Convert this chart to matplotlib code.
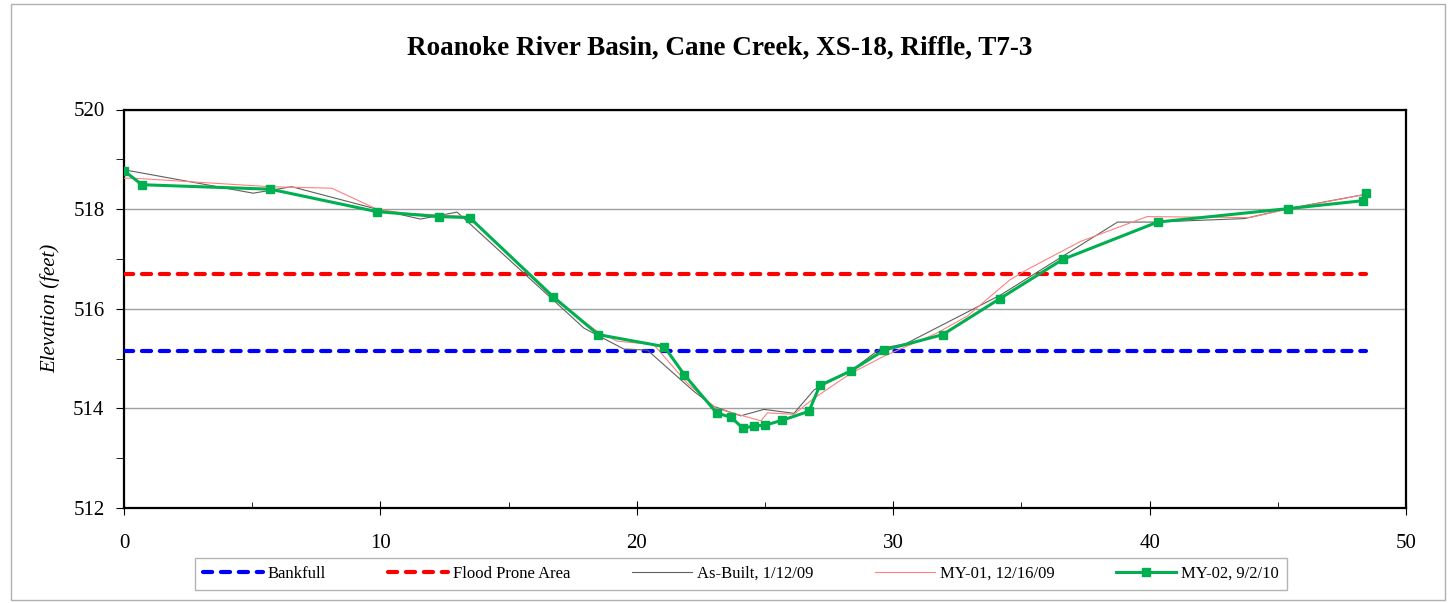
"""
Cross-section XS-18 (Cane Creek riffle): as-built vs monitoring surveys.
Saves out.png.
"""

import matplotlib

matplotlib.use("Agg")
import matplotlib.pyplot as plt
from matplotlib.patches import Rectangle
from matplotlib.ticker import MultipleLocator

plt.rcParams["font.family"] = ["Liberation Serif", "DejaVu Serif"]

# --- Data ------------------------------------------------------------------
bankfull_x = [0.0, 48.45]
bankfull_y = [515.15, 515.15]

flood_x = [0.0, 48.45]
flood_y = [516.70, 516.70]

asbuilt_x = [0.0, 5.04, 6.54, 9.86, 11.56, 12.99, 14.67, 17.94, 19.50, 20.41,
             22.23, 23.00, 24.05, 24.96, 26.13, 26.91, 28.34, 29.50, 30.50,
             34.20, 38.75, 40.18, 43.70, 45.40, 48.45]
asbuilt_y = [518.79, 518.32, 518.45, 518.00, 517.80, 517.94, 517.15, 515.61,
             515.19, 515.17, 514.34, 514.04, 513.85, 513.98, 513.90, 514.37,
             514.75, 515.20, 515.30, 516.28, 517.74, 517.74, 517.81, 518.01,
             518.30]

my01_x = [0.0, 0.40, 5.70, 8.10, 9.86, 10.90, 13.48, 16.74, 18.45, 19.23,
          20.66, 21.98, 23.10, 24.84, 25.10, 26.13, 26.90, 28.34, 29.65,
          31.70, 32.88, 34.55, 35.20, 37.30, 39.90, 43.90, 45.40, 48.45]
my01_y = [518.62, 518.62, 518.45, 518.42, 518.00, 517.92, 517.85, 516.20,
          515.55, 515.35, 515.28, 514.50, 514.00, 513.75, 513.91, 513.88,
          514.20, 514.70, 515.05, 515.51, 515.85, 516.58, 516.78, 517.35,
          517.85, 517.83, 518.00, 518.30]

my02_x = [0.0, 0.70, 5.71, 9.86, 12.27, 13.48, 16.74, 18.50, 21.07, 21.86,
          23.11, 23.68, 24.14, 24.58, 24.99, 25.66, 26.71, 27.14, 28.34,
          29.65, 31.93, 34.15, 36.61, 40.31, 45.40, 48.34, 48.45]
my02_y = [518.77, 518.49, 518.40, 517.95, 517.85, 517.83, 516.24, 515.48,
          515.24, 514.67, 513.91, 513.82, 513.60, 513.65, 513.66, 513.76,
          513.94, 514.46, 514.75, 515.17, 515.48, 516.20, 516.99, 517.74,
          518.01, 518.17, 518.33]

title = "Roanoke River Basin, Cane Creek, XS-18, Riffle, T7-3"

# --- Figure ------------------------------------------------------------------
fig = plt.figure(figsize=(14.54, 6.03), dpi=100)
fig.patches.append(Rectangle((11 / 1454, 3 / 603), 1434 / 1454, 596 / 603,
                             transform=fig.transFigure, fill=False,
                             edgecolor="#b0b0b0", linewidth=1))
ax = fig.add_axes([124 / 1454, 1 - 508 / 603, 1282 / 1454, 398.5 / 603])

ax.plot(bankfull_x, bankfull_y, color="#0000ff", lw=3.0,
        dashes=(2.2, 2.1), dash_capstyle="round", label="Bankfull", zorder=3)
ax.plot(flood_x, flood_y, color="#ff0000", lw=3.0,
        dashes=(2.2, 2.1), dash_capstyle="round", label="Flood Prone Area",
        zorder=3)
ax.plot(asbuilt_x, asbuilt_y, color="#606060", lw=0.8,
        label="As-Built, 1/12/09", zorder=4)
ax.plot(my01_x, my01_y, color="#ff8080", lw=0.8,
        label="MY-01, 12/16/09", zorder=4)
ax.plot(my02_x, my02_y, color="#00b050", lw=2.2, marker="s", markersize=6,
        label="MY-02, 9/2/10", zorder=5)

ax.set_xlim(0, 50)
ax.set_ylim(512, 520)
ax.xaxis.set_major_locator(MultipleLocator(10))
ax.xaxis.set_minor_locator(MultipleLocator(5))
ax.yaxis.set_major_locator(MultipleLocator(2))
ax.yaxis.set_minor_locator(MultipleLocator(1))
ax.grid(axis="y", which="major", color="#a0a0a0", lw=1)
ax.set_axisbelow(True)

for s in ax.spines.values():
    s.set_linewidth(1.6)
ax.tick_params(axis="y", which="major", direction="out", length=6,
               labelsize=15, pad=8)
ax.tick_params(axis="y", which="minor", direction="out", length=6)
ax.tick_params(axis="x", which="major", direction="inout", length=10,
               labelsize=15, pad=14)
ax.tick_params(axis="x", which="minor", direction="in", length=4)

ax.set_ylabel("Elevation (feet)", fontsize=15, style="italic", labelpad=9)
fig.text(720 / 1454, 1 - 48 / 603, title, ha="center", va="center",
         fontsize=19.5, fontweight="bold")

leg = fig.legend(loc="center", bbox_to_anchor=(741 / 1454, 1 - 574 / 603),
                 ncol=5, fontsize=12, frameon=True, fancybox=False,
                 edgecolor="#a0a0a0", handlelength=3.6, columnspacing=3.7,
                 handletextpad=0.3, borderpad=0.5, borderaxespad=0)
leg.get_frame().set_linewidth(1)

fig.savefig("out.png", dpi=100)
